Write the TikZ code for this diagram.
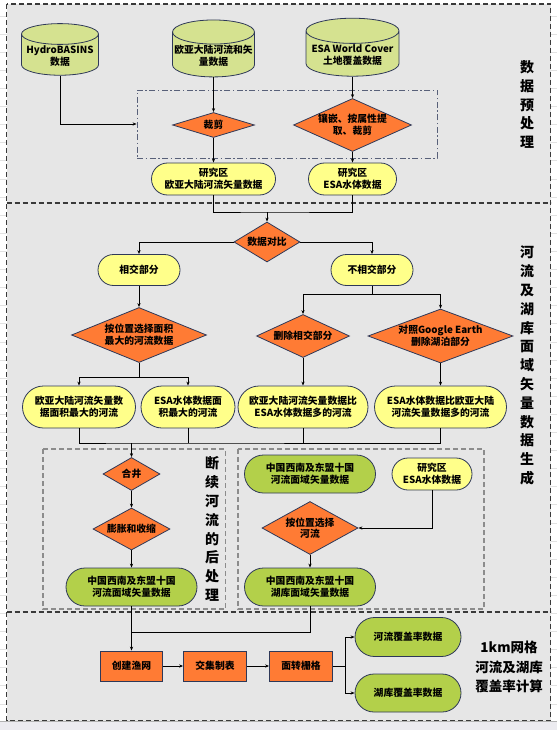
\documentclass[tikz,border=0pt]{standalone}
\usepackage{fontspec}
\setmainfont{Noto Sans CJK SC}
\usetikzlibrary{shapes.geometric, arrows.meta, positioning, calc}
\definecolor{panelgray}{HTML}{E6E6E6}
\definecolor{framedark}{HTML}{3A3A3A}
\definecolor{subgray}{HTML}{8C8C8C}
\definecolor{edgenavy}{HTML}{2E3858}
\definecolor{dbgreen}{HTML}{D5E290}
\definecolor{termyellow}{HTML}{FFFF8A}
\definecolor{stepgreen}{HTML}{B3D04A}
\definecolor{oporange}{HTML}{FF7B34}
\definecolor{gridline}{HTML}{E2E2E2}
\definecolor{statusbar}{HTML}{ECEBF0}
\newcommand{\nodefont}{\fontsize{9.8}{11.6}\selectfont\bfseries}
\newcommand{\labelfont}{\fontsize{14}{18.8}\selectfont\bfseries}

\tikzset{
  base/.style={draw=edgenavy, line width=0.8pt, align=center, font=\nodefont, inner sep=1pt},
  db/.style={base, cylinder, shape border rotate=90, aspect=0.3, fill=dbgreen},
  decision/.style={base, diamond, fill=oporange, inner sep=0pt},
  pill/.style={base, rectangle, fill=termyellow},
  greenpill/.style={base, rectangle, fill=stepgreen},
  procbox/.style={base, rectangle, fill=oporange},
  pillsize/.style 2 args={minimum width=#1pt, minimum height=#2pt, rounded corners=#2*0.5pt},
  panel/.style={framedark, line width=1.1pt, dash pattern=on 5pt off 3pt},
  subpanel/.style={subgray, line width=1.2pt, dash pattern=on 5pt off 3pt},
  clipframe/.style={draw=edgenavy!80, line width=0.8pt, dash pattern=on 6pt off 2.5pt on 1.5pt off 2.5pt},
  link/.style={line width=0.7pt},
  arr/.style={link, -{Stealth[length=4pt, width=3.2pt]}}
}

\begin{document}
\begin{tikzpicture}[x=1pt, y=-1pt]
  \useasboundingbox (0,0) rectangle (557,730);

  % Sheet background
  \fill[white] (0,0) rectangle (557,730);
  \foreach \gy in {16,34.1,...,716} \draw[gridline, line width=0.6pt] (0,\gy) -- (557,\gy);
  \fill[statusbar] (0,721) rectangle (557,730);
  \draw[gray!60] (0,721) -- (557,721);

  % Panels
  \fill[panelgray] (6.5,4) rectangle (550.5,720.5);
  \draw[panel] (6.5,4) rectangle (550.5,720.5);
  \draw[panel] (6.5,203) -- (550.5,203);
  \draw[panel] (6.5,612) -- (550.5,612);
  \draw[subpanel] (43,449) rectangle (225.5,609);
  \draw[subpanel] (238,449) rectangle (484,609);

  % Preprocessing
  \node[db, minimum width=77pt, minimum height=48pt] (hydro) at (60,56) {HydroBASINS\\数据};
  \node[db, minimum width=82pt, minimum height=48pt] (rivvec) at (213.5,56) {欧亚大陆河流和矢\\量数据};
  \node[db, minimum width=93pt, minimum height=50pt] (esawc) at (352.5,55) {ESA World Cover\\土地覆盖数据};
  \node[clipframe, minimum width=300pt, minimum height=68pt] (prebox) at (287,124) {};
  \node[decision, minimum width=82pt, minimum height=25pt, aspect=3.3] (clip) at (213.5,125) {裁剪};
  \node[decision, minimum width=118pt, minimum height=53pt, aspect=2.2] (mosaic) at (352.5,125) {镶嵌、按属性提\\取、裁剪};
  \node[pill, pillsize={124}{32}] (studyR) at (213.5,179) {研究区\\欧亚大陆河流矢量数据};
  \node[pill, pillsize={88}{32}] (studyE) at (352.5,179) {研究区\\ESA水体数据};

  % Vector generation
  \node[decision, minimum width=66pt, minimum height=40pt, aspect=1.65] (compare) at (267,242) {数据对比};
  \node[pill, pillsize={82}{31}] (inter) at (139,270) {相交部分};
  \node[pill, pillsize={82}{31}] (nonint) at (372,270) {不相交部分};
  \node[decision, minimum width=135pt, minimum height=55pt, aspect=2.45] (selArea) at (139,335) {按位置选择面积\\最大的河流数据};
  \node[decision, minimum width=93pt, minimum height=43pt, aspect=2.16] (delInter) at (303,336) {删除相交部分};
  \node[decision, minimum width=145pt, minimum height=54pt, aspect=2.7] (google) at (440.5,336) {对照Google Earth\\删除湖泊部分};
  \node[pill, pillsize={113}{42}] (riverA) at (79,407) {欧亚大陆河流矢量数\\据面积最大的河流};
  \node[pill, pillsize={94}{42}] (esaA) at (188,407) {ESA水体数据面\\积最大的河流};
  \node[pill, pillsize={130}{42}] (riverB) at (303,407) {欧亚大陆河流矢量数据比\\ESA水体数据多的河流};
  \node[pill, pillsize={132}{42}] (esaB) at (440.5,407) {ESA水体数据比欧亚大陆\\河流矢量数据多的河流};

  % Broken river post-processing
  \node[decision, minimum width=57pt, minimum height=33pt, aspect=1.73] (merge) at (131.5,474) {合井};
  \node[decision, minimum width=77pt, minimum height=42pt, aspect=1.83] (dilate) at (131.5,529) {膨胀和收缩};
  \node[greenpill, pillsize={131}{38}] (riverCN) at (131.5,587) {中国西南及东盟十国\\河流面域矢量数据};

  % Lake selection
  \node[greenpill, pillsize={131}{38}] (riverCN2) at (310,474) {中国西南及东盟十国\\河流面域矢量数据};
  \node[pill, pillsize={80}{32}] (studyE2) at (432,474) {研究区\\ESA水体数据};
  \node[decision, minimum width=96pt, minimum height=53pt, aspect=1.81] (lakeSel) at (310,528) {按位置选择\\河流};
  \node[greenpill, pillsize={131}{38}] (lakeCN) at (310,587) {中国西南及东盟十国\\湖库面域矢量数据};

  % Coverage
  \node[procbox, minimum width=62pt, minimum height=30pt] (fishnet) at (131.5,666) {创建渔网};
  \node[procbox, minimum width=63pt, minimum height=30pt] (tabulate) at (215,666) {交集制表};
  \node[procbox, minimum width=63pt, minimum height=30pt] (rasterize) at (301,666) {面转栅格};
  \node[greenpill, pillsize={106}{39}] (riverCov) at (408,637) {河流覆盖率数据};
  \node[greenpill, pillsize={106}{38}] (lakeCov) at (408,693) {湖库覆盖率数据};

  % Section labels
  \node[font=\labelfont, align=center] (lblpre) at (527,104.5) {数\\据\\预\\处\\理};
  \node[font=\labelfont, align=center] (lblgen) at (527,365.5) {河\\流\\及\\湖\\库\\面\\域\\矢\\量\\数\\据\\生\\成};
  \node[font=\labelfont, align=center] (lblpost) at (212,529) {断\\续\\河\\流\\的\\后\\处\\理};
  \node[font=\fontsize{13.5}{19.5}\selectfont\bfseries, align=center] (lblcov) at (509,667) {1km网格\\河流及湖库\\覆盖率计算};

  % Connectors
  \draw[arr] (hydro.south) |- (prebox.west);
  \draw[arr] (rivvec.south) -- (clip.north);
  \draw[arr] (esawc.south) -- (mosaic.north);
  \draw[arr] (clip.south) -- (studyR.north);
  \draw[arr] (mosaic.south) -- (studyE.north);
  \coordinate (joinA) at (267,212);
  \draw[link] (studyR.south) |- (joinA) -| (studyE.south);
  \draw[arr] (joinA) -- (compare.north);
  \draw[arr] (compare.west) -| (inter.north);
  \draw[arr] (compare.east) -| (nonint.north);
  \draw[arr] (inter.south) -- (selArea.north);
  \coordinate (forkA) at (139,377);
  \draw[link] (selArea.south) -- (forkA);
  \draw[arr] (forkA) -| (riverA.north);
  \draw[arr] (forkA) -| (esaA.north);
  \coordinate (forkB) at (372,294);
  \draw[link] (nonint.south) -- (forkB);
  \draw[arr] (forkB) -| (delInter.north);
  \draw[arr] (forkB) -| (google.north);
  \draw[arr] (delInter.south) -- (riverB.north);
  \draw[arr] (google.south) -- (esaB.north);
  \coordinate (joinB) at (131.5,443);
  \draw[link] (riverA.south) |- (joinB) -| (esaB.south);
  \draw[link] (esaA.south) -- (esaA.south |- joinB);
  \draw[link] (riverB.south) -- (riverB.south |- joinB);
  \draw[arr] (joinB) -- (merge.north);
  \draw[arr] (merge.south) -- (dilate.north);
  \draw[arr] (dilate.south) -- (riverCN.north);
  \draw[arr] (studyE2.south) |- (lakeSel.east);
  \draw[arr] (lakeSel.south) -- (lakeCN.north);
  \coordinate (joinC) at (131.5,632);
  \draw[arr] (riverCN.south) -- (fishnet.north);
  \draw[link] (lakeCN.south) |- (joinC);
  \draw[arr] (fishnet.east) -- (tabulate.west);
  \draw[arr] (tabulate.east) -- (rasterize.west);
  \coordinate (forkC) at (345,666);
  \draw[link] (rasterize.east) -- (forkC);
  \draw[arr] (forkC) |- (riverCov.west);
  \draw[arr] (forkC) |- (lakeCov.west);
\end{tikzpicture}
\end{document}
